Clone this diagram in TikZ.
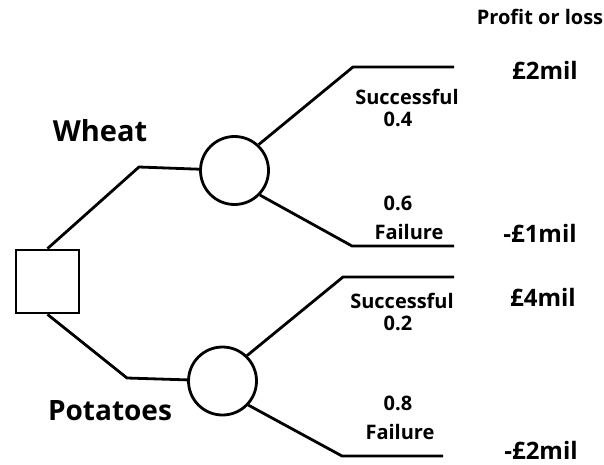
\documentclass[tikz,border=0pt]{standalone}
\usepackage{fontspec}
\setmainfont{Open Sans}
\begin{document}
\begin{tikzpicture}[x=1pt,y=-1pt,
  edge/.style={line width=2.8pt,line join=miter},
  decision/.style={draw,line width=2.8pt,minimum size=63pt,inner sep=0pt,fill=white},
  chance/.style={draw,circle,line width=2.8pt,minimum size=68pt,inner sep=0pt,fill=white},
  small/.style={font=\fontsize{20}{22}\selectfont\bfseries,inner sep=0pt},
  payoff/.style={font=\fontsize{24}{28}\selectfont\bfseries,inner sep=0pt},
  option/.style={font=\fontsize{29}{32}\selectfont\bfseries,inner sep=0pt}]
\useasboundingbox (0,0) rectangle (604,465);

% decision and chance nodes
\node[decision] (sq) at (47.5,281.5) {};
\node[chance] (c1) at (234.5,170.5) {};
\node[chance] (c2) at (222.5,381) {};

% corner points of the branches
\coordinate (k1) at (139,167);
\coordinate (k2) at (127,378);
\coordinate (a1) at (353,67);   \coordinate (a2) at (454,67);
\coordinate (b1) at (352,246);  \coordinate (b2) at (454,246);
\coordinate (d1) at (343,277);  \coordinate (d2) at (454,277);
\coordinate (e1) at (342,456);  \coordinate (e2) at (443,456);

% branches
\draw[edge] (sq.north) -- (k1) -- (c1);
\draw[edge] (sq.south) -- (k2) -- (c2);
\draw[edge] (c1.47) -- (a1) -- (a2);
\draw[edge] (c1.-44) -- (b1) -- (b2);
\draw[edge] (c2.46) -- (d1) -- (d2);
\draw[edge] (c2.-43) -- (e1) -- (e2);

% labels
\node[option] (wheat) at (100,131) {Wheat};
\node[option,font=\fontsize{28}{32}\selectfont\bfseries] (pot) at (110,411) {Potatoes};

\node[small] (s1) at (407,97) {Successful};
\node[small] (p1) at (398,119) {0.4};
\node[small] (p2) at (398,203) {0.6};
\node[small] (f1) at (409,232) {Failure};
\node[small] (s2) at (402,301) {Successful};
\node[small] (p3) at (398,323) {0.2};
\node[small] (p4) at (398,403) {0.8};
\node[small] (f2) at (400,432) {Failure};

\node[small] (head) at (540,17) {Profit or loss};
\node[payoff] (v1) at (545,70) {£2mil};
\node[payoff] (v2) at (540,233) {-£1mil};
\node[payoff] (v3) at (543,297) {£4mil};
\node[payoff] (v4) at (541,450) {-£2mil};
\end{tikzpicture}
\end{document}
